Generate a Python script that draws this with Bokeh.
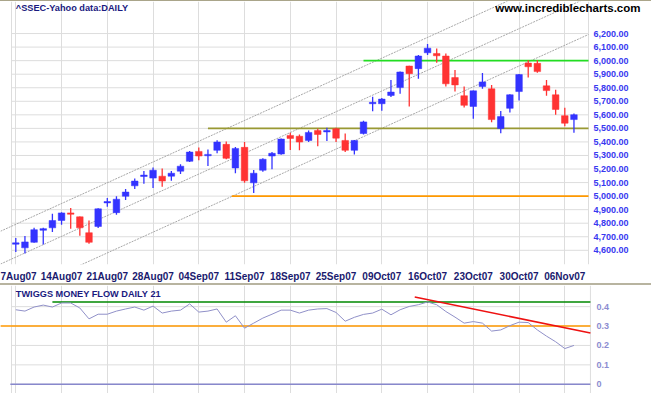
from bokeh.plotting import figure
from bokeh.models import Range1d, FixedTicker, Label
from bokeh.layouts import column
from bokeh.embed import file_html
from bokeh.resources import INLINE
from bokeh.core.properties import value

# ---------------- data ----------------
dates = [
    "2007-08-07", "2007-08-08", "2007-08-09", "2007-08-10", "2007-08-13", "2007-08-14",
    "2007-08-15", "2007-08-16", "2007-08-17", "2007-08-20", "2007-08-21", "2007-08-22",
    "2007-08-23", "2007-08-24", "2007-08-27", "2007-08-28", "2007-08-29", "2007-08-30",
    "2007-08-31", "2007-09-03", "2007-09-04", "2007-09-05", "2007-09-06", "2007-09-07",
    "2007-09-10", "2007-09-11", "2007-09-12", "2007-09-13", "2007-09-14", "2007-09-17",
    "2007-09-18", "2007-09-19", "2007-09-20", "2007-09-21", "2007-09-24", "2007-09-25",
    "2007-09-26", "2007-09-27", "2007-09-28", "2007-10-08", "2007-10-09", "2007-10-10",
    "2007-10-11", "2007-10-12", "2007-10-15", "2007-10-16", "2007-10-17", "2007-10-18",
    "2007-10-19", "2007-10-22", "2007-10-23", "2007-10-24", "2007-10-25", "2007-10-26",
    "2007-10-29", "2007-10-30", "2007-10-31", "2007-11-01", "2007-11-02", "2007-11-05",
    "2007-11-06", "2007-11-07",
]
opens = [4645, 4618, 4659, 4748, 4766, 4820, 4876, 4847, 4730, 4776, 4950, 4878,
         4999, 5076, 5145, 5133, 5147, 5147, 5184, 5257, 5330, 5298, 5338, 5382,
         5208, 5360, 5098, 5191, 5296, 5311, 5448, 5442, 5411, 5484, 5474, 5497,
         5411, 5338, 5462, 5682, 5682, 5743, 5801, 5960, 5941, 6058, 6053, 6034,
         5875, 5741, 5662, 5809, 5792, 5499, 5648, 5772, 5982, 5980, 5814, 5748,
         5594, 5565]
highs = [4691, 4705, 4766, 4766, 4869, 4880, 4913, 4850, 4820, 4910, 4986, 4999,
         5052, 5130, 5186, 5211, 5204, 5186, 5235, 5333, 5358, 5345, 5413, 5404,
         5362, 5399, 5193, 5279, 5325, 5426, 5467, 5455, 5484, 5497, 5504, 5504,
         5462, 5415, 5557, 5733, 5724, 5858, 5920, 5962, 6041, 6122, 6090, 6053,
         5931, 5809, 5780, 5909, 5821, 5629, 5752, 5902, 6002, 6002, 5858, 5785,
         5653, 5609]
lows = [4588, 4576, 4655, 4642, 4735, 4788, 4759, 4708, 4649, 4764, 4922, 4862,
        4971, 5052, 5091, 5059, 5069, 5113, 5164, 5252, 5264, 5223, 5316, 5272,
        5169, 5098, 5023, 5179, 5199, 5305, 5340, 5338, 5399, 5369, 5406, 5399,
        5325, 5308, 5455, 5626, 5631, 5731, 5755, 5662, 5867, 6041, 5985, 5809,
        5772, 5655, 5572, 5792, 5545, 5464, 5618, 5706, 5875, 5911, 5741, 5601,
        5516, 5467]
closes = [4655, 4662, 4752, 4760, 4820, 4876, 4866, 4766, 4659, 4906, 4960, 4977,
          5030, 5111, 5155, 5191, 5111, 5169, 5221, 5325, 5296, 5308, 5399, 5279,
          5352, 5113, 5169, 5272, 5316, 5421, 5426, 5399, 5470, 5455, 5484, 5428,
          5338, 5411, 5548, 5692, 5716, 5768, 5916, 5904, 6034, 6092, 6036, 5829,
          5821, 5670, 5777, 5843, 5565, 5587, 5748, 5897, 5955, 5919, 5779, 5640,
          5538, 5601]
twiggs_mf = [0.384, 0.377, 0.398, 0.408, 0.398, 0.419, 0.419, 0.393, 0.337, 0.361,
             0.361, 0.377, 0.388, 0.398, 0.382, 0.403, 0.367, 0.377, 0.382, 0.414,
             0.372, 0.377, 0.388, 0.320, 0.353, 0.289, 0.315, 0.341, 0.361, 0.382,
             0.382, 0.367, 0.382, 0.388, 0.390, 0.370, 0.325, 0.345, 0.360, 0.367,
             0.387, 0.358, 0.384, 0.401, 0.410, 0.424, 0.410, 0.375, 0.346, 0.315,
             0.323, 0.315, 0.274, 0.280, 0.302, 0.320, 0.318, 0.280, 0.248, 0.219,
             0.184, 0.200]

tick_dates = ["2007-08-07", "2007-08-14", "2007-08-21", "2007-08-28", "2007-09-04",
              "2007-09-11", "2007-09-18", "2007-09-25", "2007-10-09", "2007-10-16",
              "2007-10-23", "2007-10-30", "2007-11-06"]
tick_labels = ["7Aug07", "14Aug07", "21Aug07", "28Aug07", "04Sep07", "11Sep07",
               "18Sep07", "25Sep07", "09Oct07", "16Oct07", "23Oct07", "30Oct07", "06Nov07"]
price_ticks = list(range(4600, 6201, 100))
mf_ticks = [0, 0.1, 0.2, 0.3, 0.4]
mf_tick_labels = ["0", "0.1", "0.2", "0.3", "0.4"]

# drawn studies (in bar-index / value units)
channel_anchor_idx = [20.19, 14.72, 34.93]
channel_anchor_price = [5411, 5001, 5345]
channel_slope = 30.66
level_prices = [5500, 6000, 5000]
level_start_idx = [21.0, 38.0, 23.6]
level_colors = ["#999933", "#22dd22", "#ff9900"]
mf_levels = [0.424, 0.30, 0.0]
mf_level_start_idx = [4.0, -1.7, -0.6]
mf_level_colors = ["#008800", "#ff9900", "#8888cc"]
mf_trend_idx = [43.6, 62.8]
mf_trend_val = [0.45, 0.264]

# ---------------- layout ----------------
W = 651
X0, XW = -1.672, 69.475          # full canvas width in bar units
X1_MAIN, X1_MF = 62.59, 62.8      # right edge of the plotting area
X_LEFT = -0.47                    # left border line
LABEL_X_MAIN, LABEL_X_MF = 63.14, 63.47
GRID = "#dddddd"
FONT = "Liberation Sans"

xs = list(range(len(dates)))
ticks = [dates.index(d) for d in tick_dates]
overrides = {t: l for t, l in zip(ticks, tick_labels)}
x_range = Range1d(X0, XW)

# ---------------- price panel ----------------
p = figure(width=W, height=283, x_range=x_range, y_range=Range1d(4495.2, 6436.6),
           output_backend="svg", toolbar_location=None, y_axis_location=None,
           min_border_left=0, min_border_top=0, min_border_right=0,
           min_border_bottom=17, outline_line_color=None,
           styles={"border-top": "1px solid #aaa58a"})
p.xaxis.ticker = FixedTicker(ticks=ticks)
p.xaxis.major_label_overrides = overrides
p.xaxis.axis_line_color = None
p.xaxis.major_tick_line_color = None
p.xaxis.minor_tick_line_color = None
p.xaxis.major_label_text_font = FONT
p.xaxis.major_label_text_font_style = "bold"
p.xaxis.major_label_text_font_size = "10px"
p.xaxis.major_label_text_color = "#1a1a6e"
p.xaxis.major_label_standoff = 0
p.xgrid.grid_line_color = GRID
p.ygrid.grid_line_color = None

# horizontal grid and borders, price labels
p.segment([X_LEFT] * len(price_ticks), price_ticks, [X1_MAIN] * len(price_ticks), price_ticks,
          line_color=GRID, line_width=1)
p.segment([X_LEFT, X1_MAIN], [4495.2, 4495.2], [X_LEFT, X1_MAIN], [6436.6, 6436.6],
          line_color=GRID, line_width=1)
p.text([LABEL_X_MAIN] * len(price_ticks), price_ticks,
       text=[f"{v:,.2f}" for v in price_ticks], text_font=value(FONT),
       text_font_size="9px", text_font_style="bold", text_color="#3838f0",
       text_baseline="middle", text_align="left")

# channel lines
cy0 = [a + channel_slope * (X0 - i) for i, a in zip(channel_anchor_idx, channel_anchor_price)]
cy1 = [a + channel_slope * (X1_MAIN - i) for i, a in zip(channel_anchor_idx, channel_anchor_price)]
p.segment([X0] * 3, cy0, [X1_MAIN] * 3, cy1, line_color="#a8a8a8", line_width=1,
          line_dash="2 1")

# horizontal levels
p.segment(level_start_idx, level_prices, [X1_MAIN] * 3, level_prices,
          line_color=level_colors, line_width=1.6)

# candles
up = [c >= o for o, c in zip(opens, closes)]
colors = ["#3333ff" if u else "#ff3333" for u in up]
p.segment(xs, highs, xs, lows, line_color=colors, line_width=1.3)
p.vbar(x=xs, width=0.72, top=[max(o, c) for o, c in zip(opens, closes)],
       bottom=[min(o, c) for o, c in zip(opens, closes)],
       fill_color=colors, line_color=colors, line_width=0.5)

p.add_layout(Label(x=0, y=6392, text="^SSEC-Yahoo data:DAILY", text_font=FONT,
                   text_font_size="9.2px", text_font_style="bold", text_color="#1a1a80",
                   text_baseline="middle", text_align="left"))
p.add_layout(Label(x=68.27, y=6385, text="www.incrediblecharts.com", text_font=FONT,
                   text_font_size="11.5px", text_font_style="bold", text_color="#000000",
                   text_baseline="middle", text_align="right"))

# ---------------- money flow panel ----------------
MF_LO, MF_HI = -0.058, 0.509
q = figure(width=W, height=110, x_range=x_range, y_range=Range1d(MF_LO, MF_HI),
           output_backend="svg", toolbar_location=None, y_axis_location=None,
           x_axis_location=None, min_border_left=0, min_border_top=0,
           min_border_right=0, min_border_bottom=0, outline_line_color=None,
           styles={"border-top": "2px solid #b8b4a0"})
q.xgrid.ticker = FixedTicker(ticks=ticks)
q.xgrid.grid_line_color = GRID
q.ygrid.grid_line_color = None
q.segment([X_LEFT] * len(mf_ticks), mf_ticks, [X1_MF] * len(mf_ticks), mf_ticks,
          line_color=GRID, line_width=1)
q.segment([X_LEFT, X1_MF], [MF_LO, MF_LO], [X_LEFT, X1_MF], [MF_HI, MF_HI],
          line_color=GRID, line_width=1)
q.text([LABEL_X_MF] * len(mf_ticks), mf_ticks, text=mf_tick_labels, text_font=value(FONT),
       text_font_size="9px", text_font_style="bold", text_color="#8c8cd0",
       text_baseline="middle", text_align="left")

q.segment(mf_level_start_idx, mf_levels, [X1_MF] * 3, mf_levels,
          line_color=mf_level_colors, line_width=1.6)
q.line(xs, twiggs_mf, line_color="#9090c8", line_width=1)
q.line(mf_trend_idx, mf_trend_val, line_color="#ee1111", line_width=1.6)
q.add_layout(Label(x=0, y=0.467, text="TWIGGS MONEY FLOW DAILY 21", text_font=FONT,
                   text_font_size="9.2px", text_font_style="bold", text_color="#1a1a80",
                   text_baseline="middle", text_align="left"))

layout = column(p, q, spacing=0)
open("out.html", "w").write(file_html(layout, INLINE))
